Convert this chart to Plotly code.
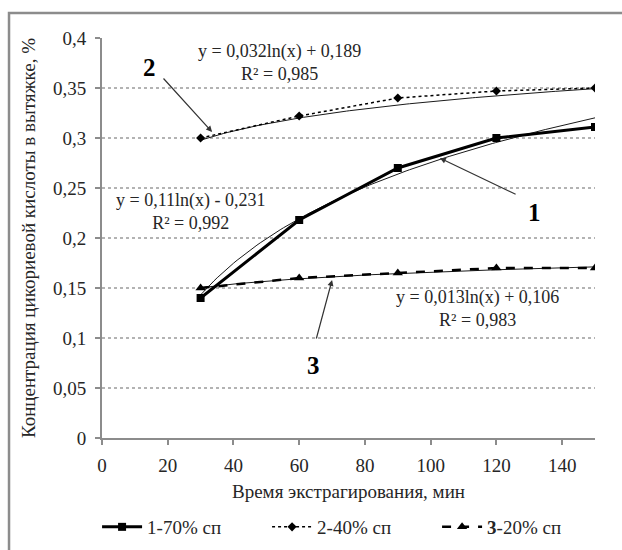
import numpy as np
import plotly.graph_objects as go

# ---- data ----
time_min = [30, 60, 90, 120, 150]
s1_70 = [0.140, 0.218, 0.270, 0.300, 0.311]
s2_40 = [0.300, 0.322, 0.340, 0.347, 0.350]
s3_20 = [0.150, 0.160, 0.165, 0.170, 0.170]

series_names = ["1-70% сп", "2-40% сп", "<b>3</b>-20% сп"]

# logarithmic trend coefficients (y = a*ln(x) + b), as shown on the chart
trend_a = [0.11, 0.032, 0.013]
trend_b = [-0.231, 0.189, 0.106]
eq_text = ["y = 0,11ln(x) - 0,231<br>R² = 0,992",
           "y = 0,032ln(x) + 0,189<br>R² = 0,985",
           "y = 0,013ln(x) + 0,106<br>R² = 0,983"]

y_ticks = [0, 0.05, 0.1, 0.15, 0.2, 0.25, 0.3, 0.35, 0.4]
y_tick_text = ["0", "0,05", "0,1", "0,15", "0,2", "0,25", "0,3", "0,35", "0,4"]
x_ticks = [0, 20, 40, 60, 80, 100, 120, 140]

FONT = "Liberation Serif, Times New Roman, serif"
TXT = "#262626"
FS = 19

fig = go.Figure()

# trend lines (thin)
xt = np.linspace(min(time_min), max(time_min), 120)
for a, b in zip(trend_a, trend_b):
    fig.add_trace(go.Scatter(x=xt, y=a * np.log(xt) + b, mode="lines",
                             line=dict(color="#1a1a1a", width=1),
                             showlegend=False, hoverinfo="skip"))

fig.add_trace(go.Scatter(x=time_min, y=s1_70, name=series_names[0], mode="lines+markers",
                         line=dict(color="black", width=3),
                         marker=dict(symbol="square", size=8, color="black")))
fig.add_trace(go.Scatter(x=time_min, y=s2_40, name=series_names[1], mode="lines+markers",
                         line=dict(color="black", width=1.5, dash="dot"),
                         marker=dict(symbol="diamond", size=7, color="black")))
fig.add_trace(go.Scatter(x=time_min, y=s3_20, name=series_names[2], mode="lines+markers",
                         line=dict(color="black", width=2.5, dash="dash"),
                         marker=dict(symbol="triangle-up", size=9, color="black")))

ann = []
# equation labels
eq_pos = [(26.8, 0.227), (53.9, 0.3755), (114.4, 0.130)]
for t, (px, py) in zip(eq_text, eq_pos):
    ann.append(dict(x=px, y=py, xref="x", yref="y", text=t, showarrow=False,
                    font=dict(family=FONT, size=18, color=TXT)))

# curve number labels
for t, px, py in [("2", 14.6, 0.371), ("1", 131.7, 0.226), ("3", 64.5, 0.073)]:
    ann.append(dict(x=px, y=py, xref="x", yref="y", text="<b>" + t + "</b>", showarrow=False,
                    font=dict(family=FONT, size=25, color="black")))

# pointer arrows
for (hx, hy, tx, ty) in [(33.5, 0.306, 18.3, 0.361), (102.8, 0.280, 126.3, 0.243),
                         (70.0, 0.158, 65.1, 0.098)]:
    ann.append(dict(x=hx, y=hy, ax=tx, ay=ty, xref="x", yref="y", axref="x", ayref="y",
                    text="", showarrow=True, arrowhead=2, arrowsize=1, arrowwidth=1.2,
                    arrowcolor="#333"))

fig.update_layout(
    width=622, height=550,
    margin=dict(l=102, r=27, t=38, b=112, autoexpand=False),
    paper_bgcolor="white", plot_bgcolor="white",
    font=dict(family=FONT, size=FS, color=TXT),
    annotations=ann,
    showlegend=True,
    legend=dict(orientation="h", x=-0.01, y=-0.2225, xanchor="left", yanchor="middle",
                entrywidth=115, entrywidthmode="pixels",
                font=dict(family=FONT, size=FS, color=TXT), itemwidth=40),
    shapes=[dict(type="rect", xref="paper", yref="paper",
                 x0=-0.1886, x1=1.1, y0=-0.35, y1=1.0625,
                 line=dict(color="#8c8c8c", width=2.5), layer="below")],
)

fig.update_xaxes(range=[0, 150], tickvals=x_ticks, showgrid=False, automargin=False,
                 showline=True, linecolor="#8c8c8c", linewidth=2,
                 ticks="outside", ticklen=5, tickcolor="#8c8c8c", tickwidth=1.5,
                 ticklabelstandoff=4,
                 zeroline=False,
                 title=dict(text="Время экстрагирования, мин", standoff=10,
                            font=dict(family=FONT, size=FS, color=TXT)),
                 tickfont=dict(family=FONT, size=FS, color=TXT))
fig.update_yaxes(range=[0, 0.4], tickvals=y_ticks, ticktext=y_tick_text, automargin=False,
                 showgrid=True, gridcolor="#b3b3b3", griddash="dot", gridwidth=1.5,
                 showline=True, linecolor="#8c8c8c", linewidth=2,
                 ticks="outside", ticklen=5, tickcolor="#8c8c8c", tickwidth=1.5,
                 ticklabelstandoff=5,
                 zeroline=False,
                 title=dict(text="Концентрация цикориевой кислоты в вытяжке, %", standoff=12,
                            font=dict(family=FONT, size=19, color=TXT)),
                 tickfont=dict(family=FONT, size=FS, color=TXT))

page_css = ("document.documentElement.style.overflow='hidden';"
            "document.body.style.margin='0';document.body.style.overflow='hidden';")
fig.write_html("out.html", post_script=page_css, config={"displayModeBar": False})
